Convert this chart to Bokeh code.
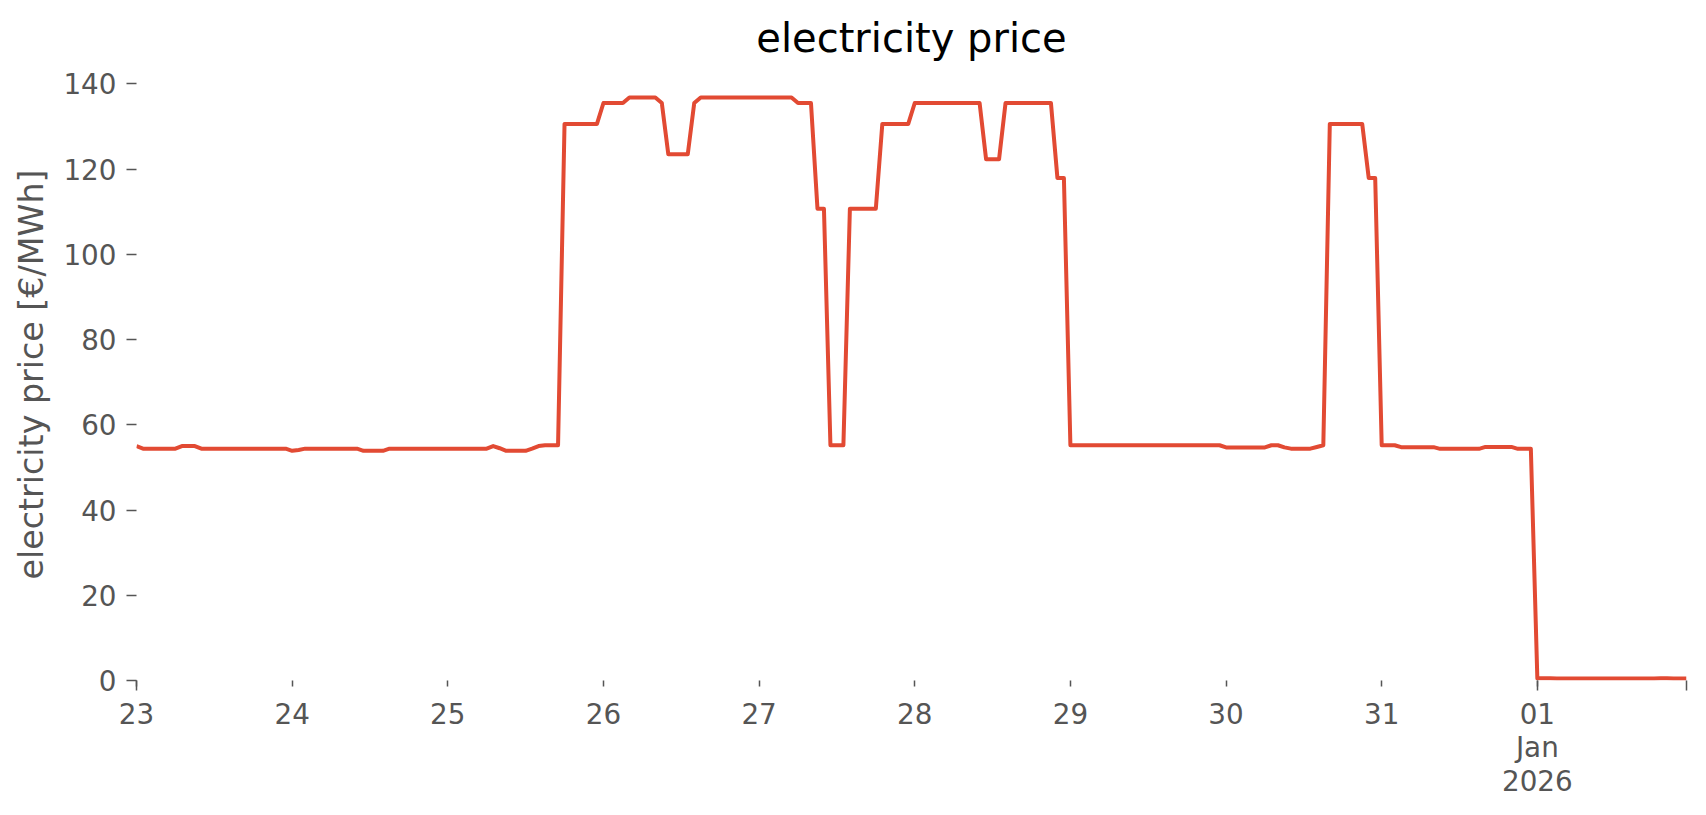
import pandas as pd
from bokeh.plotting import figure
from bokeh.models import Range1d, FixedTicker, ColumnDataSource
from bokeh.embed import file_html
from bokeh.resources import INLINE

# ---- data: hourly electricity price [EUR/MWh], one list per day ----
start = "2025-12-23 00:00"
dec23 = [55.0, 54.4, 54.4, 54.4, 54.4, 54.4, 54.4, 55.0, 55.0, 55.0, 54.4, 54.4,
         54.4, 54.4, 54.4, 54.4, 54.4, 54.4, 54.4, 54.4, 54.4, 54.4, 54.4, 54.4]
dec24 = [53.9, 54.1, 54.4, 54.4, 54.4, 54.4, 54.4, 54.4, 54.4, 54.4, 54.4, 53.9,
         53.9, 53.9, 53.9, 54.4, 54.4, 54.4, 54.4, 54.4, 54.4, 54.4, 54.4, 54.4]
dec25 = [54.4, 54.4, 54.4, 54.4, 54.4, 54.4, 54.4, 55.0, 54.5, 53.9, 53.9, 53.9,
         53.9, 54.4, 55.0, 55.2, 55.2, 55.2, 130.6, 130.6, 130.6, 130.6, 130.6, 130.6]
dec26 = [135.5, 135.5, 135.5, 135.5, 136.8, 136.8, 136.8, 136.8, 136.8, 135.5, 123.5, 123.5,
         123.5, 123.5, 135.5, 136.8, 136.8, 136.8, 136.8, 136.8, 136.8, 136.8, 136.8, 136.8]
dec27 = [136.8, 136.8, 136.8, 136.8, 136.8, 136.8, 135.5, 135.5, 135.5, 110.7, 110.7, 55.2,
         55.2, 55.2, 110.7, 110.7, 110.7, 110.7, 110.7, 130.6, 130.6, 130.6, 130.6, 130.6]
dec28 = [135.5, 135.5, 135.5, 135.5, 135.5, 135.5, 135.5, 135.5, 135.5, 135.5, 135.5, 122.3,
         122.3, 122.3, 135.5, 135.5, 135.5, 135.5, 135.5, 135.5, 135.5, 135.5, 117.9, 117.9]
dec29 = [55.2, 55.2, 55.2, 55.2, 55.2, 55.2, 55.2, 55.2, 55.2, 55.2, 55.2, 55.2,
         55.2, 55.2, 55.2, 55.2, 55.2, 55.2, 55.2, 55.2, 55.2, 55.2, 55.2, 55.2]
dec30 = [54.7, 54.7, 54.7, 54.7, 54.7, 54.7, 54.7, 55.2, 55.2, 54.7, 54.4, 54.4,
         54.4, 54.4, 54.8, 55.2, 130.6, 130.6, 130.6, 130.6, 130.6, 130.6, 117.9, 117.9]
dec31 = [55.2, 55.2, 55.2, 54.75, 54.75, 54.75, 54.75, 54.75, 54.75, 54.35, 54.35, 54.35,
         54.35, 54.35, 54.35, 54.35, 54.8, 54.8, 54.8, 54.8, 54.8, 54.35, 54.35, 54.35]
jan01 = [0.5, 0.5, 0.5, 0.45, 0.45, 0.45, 0.45, 0.45, 0.45, 0.45, 0.45, 0.45,
         0.45, 0.45, 0.45, 0.45, 0.45, 0.45, 0.45, 0.5, 0.5, 0.45, 0.45, 0.45]

day_labels = ["23", "24", "25", "26", "27", "28", "29", "30", "31", "01\nJan\n2026"]
y_ticks = [0, 20, 40, 60, 80, 100, 120, 140]

prices = dec23 + dec24 + dec25 + dec26 + dec27 + dec28 + dec29 + dec30 + dec31 + jan01
times = pd.date_range(start, periods=len(prices), freq="h")
src = ColumnDataSource(dict(t=times, price=prices))


def ms(ts):
    return ts.value // 10**6


day_ticks = [ms(t) for t in pd.date_range(times[0].normalize(), periods=len(day_labels), freq="D")]
x0, x1 = ms(times[0]), ms(times[-1])

GREY = "#555555"
FONT = "DejaVu Sans"

p = figure(frame_width=1550, frame_height=612, x_axis_type="datetime",
           x_range=Range1d(x0, x1), y_range=Range1d(0, 143.6),
           output_backend="svg", toolbar_location=None,
           min_border_left=136, min_border_right=20,
           min_border_top=68, min_border_bottom=135,
           title="electricity price")

p.line("t", "price", source=src, line_color="#E24A33", line_width=4, line_join="round")

p.outline_line_color = None
p.xgrid.visible = False
p.ygrid.visible = False
p.background_fill_color = "white"
p.border_fill_color = "white"

p.title.text_font = FONT
p.title.text_font_size = "40px"
p.title.text_font_style = "normal"
p.title.text_color = "black"
p.title.align = "center"
p.title.standoff = 16

xa = p.xaxis[0]
xa.ticker = FixedTicker(ticks=day_ticks, minor_ticks=[day_ticks[0], day_ticks[-1], x1])
xa.major_label_overrides = {t: lab for t, lab in zip(day_ticks, day_labels)}
xa.axis_line_color = None
xa.major_tick_out = 6
xa.major_tick_in = 0
xa.minor_tick_out = 10
xa.minor_tick_in = 0
xa.major_tick_line_color = GREY
xa.minor_tick_line_color = GREY
xa.major_tick_line_width = 1.5
xa.minor_tick_line_width = 1.5
xa.major_label_standoff = 7
xa.major_label_text_font = FONT
xa.major_label_text_font_size = "27.8px"
xa.major_label_text_color = GREY
xa.major_label_text_line_height = 1.02

ya = p.yaxis[0]
ya.ticker = FixedTicker(ticks=y_ticks, minor_ticks=[])
ya.axis_line_color = None
ya.major_tick_out = 10
ya.major_tick_in = 0
ya.major_tick_line_color = GREY
ya.major_tick_line_width = 1.5
ya.major_label_standoff = 10
ya.major_label_text_font = FONT
ya.major_label_text_font_size = "27.8px"
ya.major_label_text_color = GREY
ya.axis_label = "electricity price [€/MWh]"
ya.axis_label_text_font = FONT
ya.axis_label_text_font_size = "33.3px"
ya.axis_label_text_font_style = "normal"
ya.axis_label_text_color = GREY
ya.axis_label_standoff = 9

open("out.html", "w").write(file_html(p, INLINE))
